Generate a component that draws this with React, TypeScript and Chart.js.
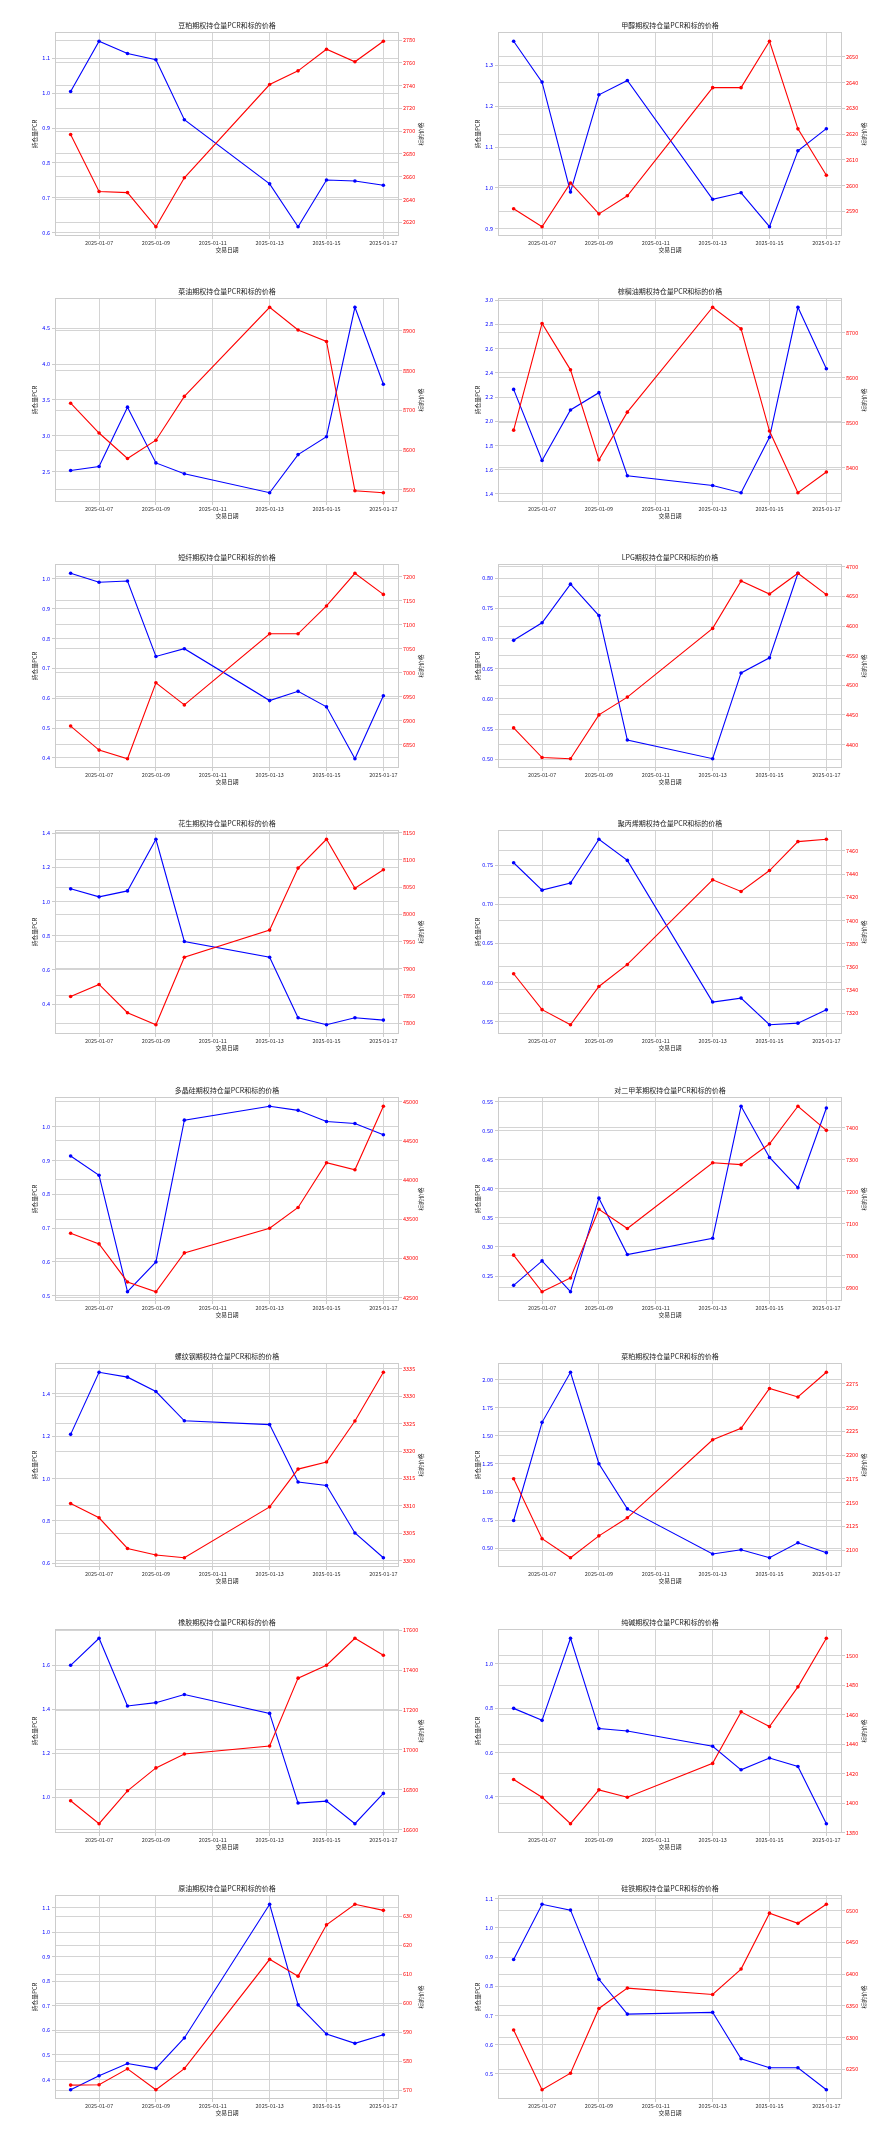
import React, { useEffect, useRef } from 'react';
import { Chart, registerables } from 'chart.js';

Chart.register(...registerables);

// ---------- data ----------
const dates = ['2025-01-06', '2025-01-07', '2025-01-08', '2025-01-09', '2025-01-10', '2025-01-13', '2025-01-14', '2025-01-15', '2025-01-16', '2025-01-17'];
const xTickDates = ['2025-01-07', '2025-01-09', '2025-01-11', '2025-01-13', '2025-01-15', '2025-01-17'];

const douPoPcr = [1.005, 1.149, 1.114, 1.096, 0.924, 0.740, 0.617, 0.751, 0.748, 0.736];
const douPoPrice = [2697, 2647, 2646, 2616, 2659, 2741, 2753, 2772, 2761, 2779];
const douPoPcrTicks = ['0.6', '0.7', '0.8', '0.9', '1.0', '1.1'];
const douPoPriceTicks = ['2620', '2640', '2660', '2680', '2700', '2720', '2740', '2760', '2780'];

const jiaChunPcr = [1.359, 1.259, 0.990, 1.228, 1.263, 0.972, 0.988, 0.905, 1.091, 1.145];
const jiaChunPrice = [2591, 2584, 2601, 2589, 2596, 2638, 2638, 2656, 2622, 2604];
const jiaChunPcrTicks = ['0.9', '1.0', '1.1', '1.2', '1.3'];
const jiaChunPriceTicks = ['2590', '2600', '2610', '2620', '2630', '2640', '2650'];

const caiYouPcr = [2.514, 2.569, 3.398, 2.620, 2.468, 2.204, 2.736, 2.986, 4.792, 3.718];
const caiYouPrice = [8718, 8643, 8579, 8625, 8735, 8959, 8902, 8873, 8498, 8493];
const caiYouPcrTicks = ['2.5', '3.0', '3.5', '4.0', '4.5'];
const caiYouPriceTicks = ['8500', '8600', '8700', '8800', '8900'];

const zongLvPcr = [2.263, 1.676, 2.093, 2.236, 1.550, 1.470, 1.410, 1.868, 2.941, 2.434];
const zongLvPrice = [8484, 8721, 8618, 8418, 8524, 8757, 8709, 8482, 8345, 8391];
const zongLvPcrTicks = ['1.4', '1.6', '1.8', '2.0', '2.2', '2.4', '2.6', '2.8', '3.0'];
const zongLvPriceTicks = ['8400', '8500', '8600', '8700'];

const duanXianPcr = [1.019, 0.989, 0.993, 0.740, 0.766, 0.592, 0.623, 0.571, 0.397, 0.608];
const duanXianPrice = [6889, 6839, 6821, 6979, 6933, 7081, 7081, 7139, 7207, 7163];
const duanXianPcrTicks = ['0.4', '0.5', '0.6', '0.7', '0.8', '0.9', '1.0'];
const duanXianPriceTicks = ['6850', '6900', '6950', '7000', '7050', '7100', '7150', '7200'];

const lpgPcr = [0.697, 0.726, 0.790, 0.738, 0.532, 0.501, 0.643, 0.668, 0.808, null];
const lpgPrice = [4428, 4378, 4376, 4450, 4480, 4596, 4676, 4654, 4689, 4653];
const lpgPcrTicks = ['0.50', '0.55', '0.60', '0.65', '0.70', '0.75', '0.80'];
const lpgPriceTicks = ['4400', '4450', '4500', '4550', '4600', '4650', '4700'];

const huaShengPcr = [1.074, 1.027, 1.062, 1.364, 0.766, 0.674, 0.320, 0.279, 0.320, 0.306];
const huaShengPrice = [7849, 7871, 7819, 7797, 7921, 7971, 8085, 8138, 8048, 8082];
const huaShengPcrTicks = ['0.4', '0.6', '0.8', '1.0', '1.2', '1.4'];
const huaShengPriceTicks = ['7800', '7850', '7900', '7950', '8000', '8050', '8100', '8150'];

const juBingXiPcr = [0.753, 0.718, 0.727, 0.783, 0.756, 0.575, 0.580, 0.546, 0.548, 0.565];
const juBingXiPrice = [7354, 7323, 7310, 7343, 7362, 7435, 7425, 7443, 7468, 7470];
const juBingXiPcrTicks = ['0.55', '0.60', '0.65', '0.70', '0.75'];
const juBingXiPriceTicks = ['7320', '7340', '7360', '7380', '7400', '7420', '7440', '7460'];

const duoJingGuiPcr = [0.913, 0.856, 0.512, 0.600, 1.019, 1.060, 1.048, 1.015, 1.009, 0.976];
const duoJingGuiPrice = [43320, 43185, 42700, 42575, 43070, 43385, 43650, 44220, 44130, 44940];
const duoJingGuiPcrTicks = ['0.5', '0.6', '0.7', '0.8', '0.9', '1.0'];
const duoJingGuiPriceTicks = ['42500', '43000', '43500', '44000', '44500', '45000'];

const duiErJiaBenPcr = [0.234, 0.276, 0.223, 0.384, 0.287, 0.315, 0.542, 0.454, 0.402, 0.539];
const duiErJiaBenPrice = [7002, 6888, 6931, 7145, 7085, 7290, 7284, 7349, 7466, 7391];
const duiErJiaBenPcrTicks = ['0.25', '0.30', '0.35', '0.40', '0.45', '0.50', '0.55'];
const duiErJiaBenPriceTicks = ['6900', '7000', '7100', '7200', '7300', '7400'];

const luoWenGangPcr = [1.208, 1.501, 1.478, 1.410, 1.272, 1.254, 0.983, 0.967, 0.743, 0.626];
const luoWenGangPrice = [3310.4, 3307.8, 3302.2, 3301.0, 3300.5, 3309.8, 3316.7, 3318.0, 3325.5, 3334.4];
const luoWenGangPcrTicks = ['0.6', '0.8', '1.0', '1.2', '1.4'];
const luoWenGangPriceTicks = ['3300', '3305', '3310', '3315', '3320', '3325', '3330', '3335'];

const caiPoPcr = [0.747, 1.619, 2.064, 1.251, 0.850, 0.449, 0.487, 0.416, 0.549, 0.461];
const caiPoPrice = [2175, 2112, 2092, 2115, 2134, 2216, 2228, 2270, 2261, 2287];
const caiPoPcrTicks = ['0.50', '0.75', '1.00', '1.25', '1.50', '1.75', '2.00'];
const caiPoPriceTicks = ['2100', '2125', '2150', '2175', '2200', '2225', '2250', '2275'];

const xiangJiaoPcr = [1.600, 1.723, 1.415, 1.430, 1.467, 1.381, 0.973, 0.982, 0.879, 1.017];
const xiangJiaoPrice = [16745, 16630, 16795, 16910, 16980, 17020, 17360, 17425, 17560, 17475];
const xiangJiaoPcrTicks = ['1.0', '1.2', '1.4', '1.6'];
const xiangJiaoPriceTicks = ['16600', '16800', '17000', '17200', '17400', '17600'];

const chunJianPcr = [0.799, 0.745, 1.115, 0.708, 0.697, 0.628, 0.522, 0.575, 0.537, 0.279];
const chunJianPrice = [1416, 1404, 1386, 1409, 1404, 1427, 1462, 1452, 1479, 1512];
const chunJianPcrTicks = ['0.4', '0.6', '0.8', '1.0'];
const chunJianPriceTicks = ['1380', '1400', '1420', '1440', '1460', '1480', '1500'];

const yuanYouPcr = [0.358, 0.415, 0.465, 0.445, 0.569, 1.114, 0.704, 0.585, 0.547, 0.582];
const yuanYouPrice = [571.7, 571.8, 577.3, 570.1, 577.4, 615.1, 609.3, 627.0, 634.1, 632.0];
const yuanYouPcrTicks = ['0.4', '0.5', '0.6', '0.7', '0.8', '0.9', '1.0', '1.1'];
const yuanYouPriceTicks = ['570', '580', '590', '600', '610', '620', '630'];

const guiTiePcr = [0.892, 1.081, 1.061, 0.824, 0.705, 0.711, 0.552, 0.521, 0.521, 0.446];
const guiTiePrice = [6312, 6218, 6244, 6346, 6378, 6368, 6408, 6496, 6480, 6510];
const guiTiePcrTicks = ['0.5', '0.6', '0.7', '0.8', '0.9', '1.0', '1.1'];
const guiTiePriceTicks = ['6250', '6300', '6350', '6400', '6450', '6500'];

type PanelCfg = {
  title: string;
  pcr: (number | null)[];
  price: number[];
  pcrTicks: string[];
  priceTicks: string[];
};

const panels: PanelCfg[] = [
  { title: '豆粕期权持仓量PCR和标的价格', pcr: douPoPcr, price: douPoPrice, pcrTicks: douPoPcrTicks, priceTicks: douPoPriceTicks },
  { title: '甲醇期权持仓量PCR和标的价格', pcr: jiaChunPcr, price: jiaChunPrice, pcrTicks: jiaChunPcrTicks, priceTicks: jiaChunPriceTicks },
  { title: '菜油期权持仓量PCR和标的价格', pcr: caiYouPcr, price: caiYouPrice, pcrTicks: caiYouPcrTicks, priceTicks: caiYouPriceTicks },
  { title: '棕榈油期权持仓量PCR和标的价格', pcr: zongLvPcr, price: zongLvPrice, pcrTicks: zongLvPcrTicks, priceTicks: zongLvPriceTicks },
  { title: '短纤期权持仓量PCR和标的价格', pcr: duanXianPcr, price: duanXianPrice, pcrTicks: duanXianPcrTicks, priceTicks: duanXianPriceTicks },
  { title: 'LPG期权持仓量PCR和标的价格', pcr: lpgPcr, price: lpgPrice, pcrTicks: lpgPcrTicks, priceTicks: lpgPriceTicks },
  { title: '花生期权持仓量PCR和标的价格', pcr: huaShengPcr, price: huaShengPrice, pcrTicks: huaShengPcrTicks, priceTicks: huaShengPriceTicks },
  { title: '聚丙烯期权持仓量PCR和标的价格', pcr: juBingXiPcr, price: juBingXiPrice, pcrTicks: juBingXiPcrTicks, priceTicks: juBingXiPriceTicks },
  { title: '多晶硅期权持仓量PCR和标的价格', pcr: duoJingGuiPcr, price: duoJingGuiPrice, pcrTicks: duoJingGuiPcrTicks, priceTicks: duoJingGuiPriceTicks },
  { title: '对二甲苯期权持仓量PCR和标的价格', pcr: duiErJiaBenPcr, price: duiErJiaBenPrice, pcrTicks: duiErJiaBenPcrTicks, priceTicks: duiErJiaBenPriceTicks },
  { title: '螺纹钢期权持仓量PCR和标的价格', pcr: luoWenGangPcr, price: luoWenGangPrice, pcrTicks: luoWenGangPcrTicks, priceTicks: luoWenGangPriceTicks },
  { title: '菜粕期权持仓量PCR和标的价格', pcr: caiPoPcr, price: caiPoPrice, pcrTicks: caiPoPcrTicks, priceTicks: caiPoPriceTicks },
  { title: '橡胶期权持仓量PCR和标的价格', pcr: xiangJiaoPcr, price: xiangJiaoPrice, pcrTicks: xiangJiaoPcrTicks, priceTicks: xiangJiaoPriceTicks },
  { title: '纯碱期权持仓量PCR和标的价格', pcr: chunJianPcr, price: chunJianPrice, pcrTicks: chunJianPcrTicks, priceTicks: chunJianPriceTicks },
  { title: '原油期权持仓量PCR和标的价格', pcr: yuanYouPcr, price: yuanYouPrice, pcrTicks: yuanYouPcrTicks, priceTicks: yuanYouPriceTicks },
  { title: '硅铁期权持仓量PCR和标的价格', pcr: guiTiePcr, price: guiTiePrice, pcrTicks: guiTiePcrTicks, priceTicks: guiTiePriceTicks },
];

// ---------- style ----------
const FONT = '"Noto Sans CJK SC", "DejaVu Sans", sans-serif';
const GRID = '#d4d4d4';
const SPINE = '#cccccc';
const W = 444;
const H = 266;

const dayOf = (d: string) => Number(d.slice(8, 10));

function padRange(arr: (number | null)[]): [number, number] {
  const v = arr.filter((x): x is number => x !== null);
  const mn = Math.min(...v);
  const mx = Math.max(...v);
  const m = (mx - mn) * 0.05;
  return [mn - m, mx + m];
}

function Panel({ cfg, left, top }: { cfg: PanelCfg; left: number; top: number }) {
  const ref = useRef<HTMLCanvasElement>(null);

  useEffect(() => {
    if (!ref.current) return;
    const xs = dates.map(dayOf);
    const [x0, x1] = padRange(xs);
    const [p0, p1] = padRange(cfg.pcr);
    const [q0, q1] = padRange(cfg.price);
    const xTickVals = xTickDates.map(dayOf);
    const pcrVals = cfg.pcrTicks.map(Number);
    const priceVals = cfg.priceTicks.map(Number);

    const decor = {
      id: 'decor',
      afterDraw(chart: any) {
        const { ctx, chartArea: a } = chart;
        ctx.save();
        ctx.strokeStyle = SPINE;
        ctx.lineWidth = 1;
        ctx.strokeRect(Math.round(a.left) + 0.5, Math.round(a.top) + 0.5, Math.round(a.right - a.left) - 1, Math.round(a.bottom - a.top) - 1);
        const cx = (a.left + a.right) / 2;
        const cy = (a.top + a.bottom) / 2;
        ctx.fillStyle = '#222222';
        ctx.textAlign = 'center';
        ctx.textBaseline = 'middle';
        ctx.font = `7px ${FONT}`;
        ctx.fillText(cfg.title, cx, 25);
        ctx.font = `5.8px ${FONT}`;
        ctx.fillText('交易日期', cx, 250);
        ctx.save();
        ctx.translate(35, cy);
        ctx.rotate(-Math.PI / 2);
        ctx.fillText('持仓量PCR', 0, 0);
        ctx.restore();
        ctx.save();
        ctx.translate(421, cy);
        ctx.rotate(-Math.PI / 2);
        ctx.fillText('标的价格', 0, 0);
        ctx.restore();
        ctx.restore();
      },
    };

    const tickFont = { family: FONT, size: 5.5 };

    const chart = new Chart(ref.current, {
      type: 'line',
      data: {
        datasets: [
          {
            label: '持仓量PCR',
            data: xs.map((x, i) => ({ x, y: cfg.pcr[i] })),
            yAxisID: 'y',
            borderColor: '#0000ff',
            backgroundColor: '#0000ff',
            pointBackgroundColor: '#0000ff',
            borderWidth: 1.1,
            pointRadius: 1.8,
            pointBorderWidth: 0,
            tension: 0,
            order: 1,
          },
          {
            label: '标的价格',
            data: xs.map((x, i) => ({ x, y: cfg.price[i] })),
            yAxisID: 'y1',
            borderColor: '#ff0000',
            backgroundColor: '#ff0000',
            pointBackgroundColor: '#ff0000',
            borderWidth: 1.1,
            pointRadius: 1.8,
            pointBorderWidth: 0,
            tension: 0,
            order: 0,
          },
        ],
      } as any,
      options: {
        responsive: false,
        animation: false,
        devicePixelRatio: 1,
        layout: { padding: { top: 32, left: 0, right: 0, bottom: 0 } },
        plugins: {
          legend: { display: false },
          tooltip: { enabled: false },
          title: { display: false },
        },
        scales: {
          x: {
            type: 'linear',
            min: x0,
            max: x1,
            bounds: 'data',
            afterBuildTicks: (s: any) => {
              s.ticks = xTickVals.map((v) => ({ value: v }));
            },
            afterFit: (s: any) => {
              s.height = 30;
            },
            ticks: {
              autoSkip: false,
              maxRotation: 0,
              minRotation: 0,
              padding: 1,
              color: '#333333',
              font: tickFont,
              callback: (v: any) => xTickDates[xTickVals.indexOf(Number(v))] ?? '',
            },
            grid: { color: GRID, tickLength: 3, tickColor: SPINE },
            border: { display: false },
          },
          y: {
            type: 'linear',
            position: 'left',
            min: p0,
            max: p1,
            bounds: 'data',
            afterBuildTicks: (s: any) => {
              s.ticks = pcrVals.map((v) => ({ value: v }));
            },
            afterFit: (s: any) => {
              s.width = 55;
            },
            ticks: {
              padding: 2,
              color: '#0000ff',
              font: tickFont,
              callback: (v: any) => cfg.pcrTicks[pcrVals.indexOf(Number(v))] ?? '',
            },
            grid: { color: GRID, tickLength: 3, tickColor: SPINE },
            border: { display: false },
          },
          y1: {
            type: 'linear',
            position: 'right',
            min: q0,
            max: q1,
            bounds: 'data',
            afterBuildTicks: (s: any) => {
              s.ticks = priceVals.map((v) => ({ value: v }));
            },
            afterFit: (s: any) => {
              s.width = W - 399;
            },
            ticks: {
              padding: 1,
              color: '#ff0000',
              font: tickFont,
              callback: (v: any) => cfg.priceTicks[priceVals.indexOf(Number(v))] ?? '',
            },
            grid: { color: GRID, tickLength: 3, tickColor: SPINE },
            border: { display: false },
          },
        },
      } as any,
      plugins: [decor],
    });

    return () => chart.destroy();
  }, [cfg]);

  return (
    <canvas
      ref={ref}
      width={W}
      height={H}
      style={{ position: 'absolute', left, top, width: W, height: H, display: 'block' }}
    />
  );
}

export default function App() {
  return (
    <div style={{ position: 'absolute', left: 0, top: 0, width: 887, height: 2129, background: '#ffffff', overflow: 'hidden' }}>
      {panels.map((p, i) => {
        const row = Math.floor(i / 2);
        const col = i % 2;
        return <Panel key={i} cfg={p} left={col === 0 ? 0 : 443} top={Math.round(row * 266.125)} />;
      })}
    </div>
  );
}
